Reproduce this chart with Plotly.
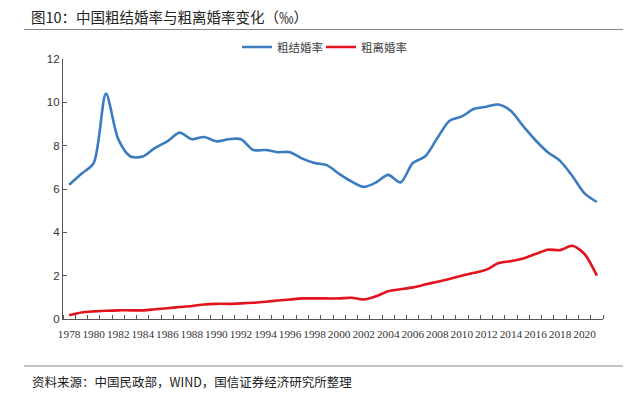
import plotly.graph_objects as go

years = list(range(1978, 2022))
marriage_rate = [6.2, 6.7, 7.2, 10.4, 8.3, 7.5, 7.5, 7.9, 8.2, 8.6, 8.3, 8.4, 8.2, 8.3, 8.3,
                 7.8, 7.8, 7.7, 7.7, 7.4, 7.2, 7.1, 6.7, 6.35, 6.1, 6.3, 6.65, 6.3, 7.2, 7.5,
                 8.35, 9.15, 9.35, 9.7, 9.8, 9.9, 9.6, 8.9, 8.25, 7.7, 7.3, 6.6, 5.8, 5.4]
divorce_rate = [0.17, 0.3, 0.35, 0.38, 0.4, 0.4, 0.4, 0.45, 0.5, 0.55, 0.6, 0.67, 0.7, 0.7, 0.72,
                0.75, 0.8, 0.85, 0.9, 0.95, 0.95, 0.95, 0.95, 0.98, 0.9, 1.05, 1.28, 1.37, 1.46,
                1.59, 1.72, 1.85, 2.0, 2.13, 2.28, 2.58, 2.67, 2.79, 3.0, 3.2, 3.18, 3.38, 3.0, 2.0]
series_names = ["粗结婚率", "粗离婚率"]
label_years = list(range(1978, 2021, 2))
y_ticks = [0, 2, 4, 6, 8, 10, 12]

font_cn = "Noto Sans CJK SC"

fig = go.Figure()
fig.add_trace(go.Scatter(x=years, y=marriage_rate, name=series_names[0], mode="lines",
                         legend="legend",
                         line=dict(color="#3B7CC0", width=2.6, shape="spline", smoothing=0.8)))
fig.add_trace(go.Scatter(x=years, y=divorce_rate, name=series_names[1], mode="lines",
                         legend="legend2",
                         line=dict(color="#E3131E", width=2.6, shape="spline", smoothing=0.8)))

W, H = 634, 393
L, T = 63, 59
pw, ph = 540, 260
R, B = W - L - pw, H - T - ph

def px_x(px):
    return (px - L) / pw

def px_y(py):
    return (T + ph - py) / ph

legend_common = dict(orientation="h", xanchor="left", yanchor="middle", y=px_y(47),
                     font=dict(family=font_cn, size=11.5, color="#404040"),
                     itemwidth=30, bgcolor="rgba(0,0,0,0)", borderwidth=0)

fig.update_layout(
    width=W, height=H,
    margin=dict(l=L, r=R, t=T, b=B, pad=0),
    paper_bgcolor="white", plot_bgcolor="white",
    showlegend=True,
    legend=dict(x=px_x(237), **legend_common),
    legend2=dict(x=px_x(321), **legend_common),
    xaxis=dict(range=[1977.5, 2021.5], tickmode="array", tickvals=label_years,
               ticktext=[str(y) for y in label_years], ticks="", showgrid=False,
               zeroline=False, showline=True, linecolor="#555555", linewidth=1.2,
               tickfont=dict(family="Liberation Sans Narrow", size=11.3, color="#333333"),
               tickangle=0, ticklabelstandoff=4,
               minor=dict(tickmode="linear", tick0=1977.5, dtick=1, ticks="inside",
                          ticklen=4, tickcolor="#555555", tickwidth=1, showgrid=False)),
    yaxis=dict(range=[0, 12], tickvals=y_ticks, ticks="inside", ticklen=4,
               tickcolor="#555555", showgrid=False, zeroline=False, showline=True,
               linecolor="#555555", linewidth=1.2,
               tickfont=dict(family="Liberation Sans", size=11.5, color="#333333")),
)

fig.add_annotation(text="图10：中国粗结婚率与粗离婚率变化（‰）", xref="paper", yref="paper",
                   x=px_x(29), y=px_y(16.5), xanchor="left", yanchor="middle", showarrow=False,
                   font=dict(family=font_cn, size=14.5, color="#222222"))
fig.add_annotation(text="资料来源：中国民政部，WIND，国信证券经济研究所整理", xref="paper", yref="paper",
                   x=px_x(30), y=px_y(381), xanchor="left", yanchor="middle", showarrow=False,
                   font=dict(family=font_cn, size=12.5, color="#222222"))
fig.add_shape(type="line", xref="paper", yref="paper", x0=px_x(24), x1=px_x(623),
              y0=px_y(29.5), y1=px_y(29.5), line=dict(color="#888888", width=1.2))
fig.add_shape(type="line", xref="paper", yref="paper", x0=px_x(24), x1=px_x(623),
              y0=px_y(366), y1=px_y(366), line=dict(color="#888888", width=1.2))

fig.write_html("out.html", config={"displayModeBar": False},
               post_script="document.body.style.margin='0';")
